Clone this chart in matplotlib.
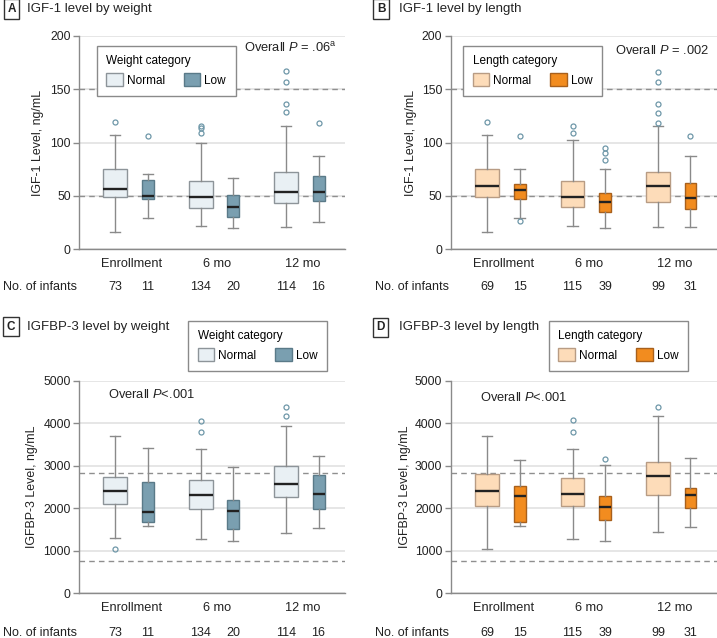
import matplotlib
matplotlib.use("Agg")
import matplotlib.pyplot as plt
from matplotlib.patches import Patch

plt.rcParams['font.family'] = ['Liberation Sans', 'DejaVu Sans']
plt.rcParams['mathtext.fontset'] = 'custom'
plt.rcParams['mathtext.rm'] = 'Liberation Sans'
plt.rcParams['mathtext.it'] = 'Liberation Sans:italic'

# ---------------- data ----------------
timepoints = ["Enrollment", "6 mo", "12 mo"]

# Panel A: IGF-1 by weight
a_norm_q1 = [48.8, 39.0, 43.1]
a_norm_med = [56.9, 48.8, 54.0]
a_norm_q3 = [75.0, 64.0, 72.2]
a_norm_lo = [16.0, 22.1, 21.2]
a_norm_hi = [107.5, 100.0, 115.4]
a_norm_fl = [[119.4], [109.4, 113.8, 115.7], [128.5, 136.6, 157.0, 167.0]]
a_low_q1 = [46.9, 30.0, 45.3]
a_low_med = [49.7, 40.0, 54.0]
a_low_q3 = [64.7, 51.0, 68.8]
a_low_lo = [29.0, 20.3, 26.0]
a_low_hi = [71.0, 66.9, 87.2]
a_low_fl = [[106.3], [], [118.2]]

# Panel B: IGF-1 by length
b_norm_q1 = [49.0, 39.4, 44.0]
b_norm_med = [59.1, 49.0, 59.0]
b_norm_q3 = [75.3, 64.0, 72.8]
b_norm_lo = [16.0, 22.1, 20.9]
b_norm_hi = [107.5, 102.2, 115.4]
b_norm_fl = [[119.4], [109.1, 115.4], [118.8, 128.2, 136.0, 157.0, 166.6]]
b_low_q1 = [47.5, 35.3, 37.8]
b_low_med = [56.0, 44.4, 48.4]
b_low_q3 = [61.6, 52.8, 62.5]
b_low_lo = [29.0, 19.7, 20.9]
b_low_hi = [75.0, 75.0, 87.5]
b_low_fl = [[26.3, 106.0], [84.0, 90.0, 95.0], [106.3]]

# Panel C: IGFBP-3 by weight
c_norm_q1 = [2100, 1975, 2257]
c_norm_med = [2413, 2312, 2570]
c_norm_q3 = [2742, 2672, 2986]
c_norm_lo = [1308, 1277, 1425]
c_norm_hi = [3706, 3400, 3941]
c_norm_fl = [[1042], [3800, 4059], [4169, 4388]]
c_low_q1 = [1670, 1520, 1989]
c_low_med = [1905, 1943, 2342]
c_low_q3 = [2625, 2194, 2774]
c_low_lo = [1575, 1237, 1543]
c_low_hi = [3409, 2977, 3236]
c_low_fl = [[], [], []]

# Panel D: IGFBP-3 by length
d_norm_q1 = [2045, 2045, 2319]
d_norm_med = [2413, 2328, 2751]
d_norm_q3 = [2798, 2711, 3095]
d_norm_lo = [1034, 1284, 1434]
d_norm_hi = [3706, 3393, 4176]
d_norm_fl = [[], [3800, 4067], [4380]]
d_low_q1 = [1670, 1731, 2006]
d_low_med = [2281, 2037, 2312]
d_low_q3 = [2530, 2288, 2469]
d_low_lo = [1575, 1237, 1552]
d_low_hi = [3127, 3009, 3189]
d_low_fl = [[], [3150], []]

n_weight_normal = [73, 134, 114]
n_weight_low = [11, 20, 16]
n_length_normal = [69, 115, 99]
n_length_low = [15, 39, 31]

igf_ticks = [0, 50, 100, 150, 200]
igf_ref = [50, 150]
bp3_ticks = [0, 1000, 2000, 3000, 4000, 5000]
bp3_ref = [760, 2820]

# ---------------- styles ----------------
W = 717
H = 638
fig = plt.figure(figsize=(W / 100, H / 100), dpi=100)

col_wn, col_wn_e = "#e9f0f4", "#8d9499"
col_wl, col_wl_e = "#7a9fb0", "#5a7a88"
col_ln, col_ln_e = "#fddcb9", "#b89c84"
col_ll, col_ll_e = "#f28c1f", "#a8601c"
flier_col = "#6e97a8"
whisk_col = "#8a8a8a"
grid_col = "#e2e2e2"
text_col = "#222222"


def px(x, y):
    return x / W, 1 - y / H


def make_stats(q1, med, q3, lo, hi, fl):
    return [dict(q1=a, med=m, q3=b, whislo=l, whishi=h, fliers=f)
            for a, m, b, l, h, f in zip(q1, med, q3, lo, hi, fl)]


def draw_group(ax, stats, positions, width, fc, ec):
    ax.bxp(stats, positions=positions, widths=width, capwidths=0.12,
           patch_artist=True, showfliers=True,
           boxprops=dict(facecolor=fc, edgecolor=ec, linewidth=1.0),
           medianprops=dict(color=text_col, linewidth=1.7),
           whiskerprops=dict(color=whisk_col, linewidth=1.0),
           capprops=dict(color=whisk_col, linewidth=1.0),
           flierprops=dict(marker='o', markersize=3.6, markerfacecolor='none',
                           markeredgecolor=flier_col, markeredgewidth=0.9),
           manage_ticks=False, zorder=3)


def panel(rect, ylim, ticks, refs, normal, low, cols, tick_fmt):
    ax = fig.add_axes(rect)
    ax.set_xlim(-0.615, 2.5)
    ax.set_ylim(*ylim)
    for t in ticks:
        ax.axhline(t, color=grid_col, lw=1.2, zorder=0)
    for r in refs:
        ax.axhline(r, color="#8f8f8f", lw=1.0, ls=(0, (4, 3)), zorder=1)
    off = 0.19
    pos_n = [i - off for i in range(3)]
    pos_l = [i + off for i in range(3)]
    draw_group(ax, normal, pos_n, 0.28, cols[0], cols[1])
    draw_group(ax, low, pos_l, 0.14, cols[2], cols[3])
    ax.set_xticks(range(3))
    ax.set_xticklabels(timepoints, fontsize=9.2, color=text_col)
    ax.tick_params(axis='x', length=0, pad=6)
    ax.set_yticks(ticks)
    ax.set_yticklabels([tick_fmt(t) for t in ticks], fontsize=8.8, color=text_col)
    ax.tick_params(axis='y', length=4, width=1, color="#8a8a8a", pad=2)
    for s in ['top', 'right']:
        ax.spines[s].set_visible(False)
    for s in ['left', 'bottom']:
        ax.spines[s].set_color("#8a8a8a")
        ax.spines[s].set_linewidth(1.0)
    return ax, pos_n, pos_l


def counts(ax, pos_n, pos_l, nn, nl, y, xlab):
    for p, n in zip(pos_n, nn):
        xd = ax.transData.transform((p, 0))[0]
        fig.text(xd / W, 1 - y / H, str(n), ha='center', va='center', fontsize=9, color=text_col)
    for p, n in zip(pos_l, nl):
        xd = ax.transData.transform((p, 0))[0]
        fig.text(xd / W, 1 - y / H, str(n), ha='center', va='center', fontsize=9, color=text_col)
    fig.text(*px(xlab, y), "No. of infants", ha='left', va='center', fontsize=9, color=text_col)


def title(letter, lx, tx, y, txt):
    fig.text(*px(lx, y), letter, ha='center', va='center', fontsize=8.5, fontweight='bold',
             color=text_col,
             bbox=dict(boxstyle='square,pad=0.3', fc='white', ec='#333333', lw=1.0))
    fig.text(*px(tx, y), txt, ha='left', va='center', fontsize=9.5, color=text_col)


def legend(ax, x, y, name, c1, e1, c2, e2):
    handles = [Patch(facecolor=c1, edgecolor=e1, lw=1.0), Patch(facecolor=c2, edgecolor=e2, lw=1.0)]
    leg = ax.legend(handles, ["Normal", "Low"], title=name, ncol=2, loc='upper left',
                    bbox_to_anchor=px(x, y), bbox_transform=fig.transFigure,
                    fontsize=8.5, title_fontsize=8.5, frameon=True, fancybox=False,
                    edgecolor="#8a8a8a", framealpha=1, borderpad=0.8,
                    handlelength=1.4, handleheight=1.3, handletextpad=0.35,
                    columnspacing=1.6, borderaxespad=0)
    leg.get_frame().set_linewidth(1.0)
    leg._legend_box.align = "left"
    leg.set_zorder(5)
    return leg


igf_fmt = lambda t: f"{t:d}"

# Panel A
rectA = [79 / W, 1 - 249.3 / H, 266 / W, 213.3 / H]
axA, pn, pl = panel(rectA, (0, 200), igf_ticks, igf_ref,
                    make_stats(a_norm_q1, a_norm_med, a_norm_q3, a_norm_lo, a_norm_hi, a_norm_fl),
                    make_stats(a_low_q1, a_low_med, a_low_q3, a_low_lo, a_low_hi, a_low_fl),
                    (col_wn, col_wn_e, col_wl, col_wl_e), igf_fmt)
counts(axA, pn, pl, n_weight_normal, n_weight_low, 286.7, 3)
legend(axA, 96.7, 46, "Weight category", col_wn, col_wn_e, col_wl, col_wl_e)
fig.text(*px(244, 47.5), r"Overall $\mathit{P}$ = .06$^{\mathrm{a}}$", ha='left', va='center', fontsize=9.3, color=text_col)
fig.text(*px(38, 142.7), "IGF-1 Level, ng/mL", rotation=90, ha='center', va='center', fontsize=8.9, color=text_col)
title("A", 11.5, 27, 9, "IGF-1 level by weight")

# Panel B
rectB = [450.7 / W, 1 - 249.3 / H, 266.3 / W, 213.3 / H]
axB, pn, pl = panel(rectB, (0, 200), igf_ticks, igf_ref,
                    make_stats(b_norm_q1, b_norm_med, b_norm_q3, b_norm_lo, b_norm_hi, b_norm_fl),
                    make_stats(b_low_q1, b_low_med, b_low_q3, b_low_lo, b_low_hi, b_low_fl),
                    (col_ln, col_ln_e, col_ll, col_ll_e), igf_fmt)
counts(axB, pn, pl, n_length_normal, n_length_low, 286.7, 375)
legend(axB, 463.3, 46, "Length category", col_ln, col_ln_e, col_ll, col_ll_e)
fig.text(*px(615, 51), r"Overall $\mathit{P}$ = .002", ha='left', va='center', fontsize=9.3, color=text_col)
fig.text(*px(411, 142.7), "IGF-1 Level, ng/mL", rotation=90, ha='center', va='center', fontsize=8.9, color=text_col)
title("B", 381, 399, 9, "IGF-1 level by length")

# Panel C
rectC = [79 / W, 1 - 593.3 / H, 266 / W, 212.6 / H]
axC, pn, pl = panel(rectC, (0, 5000), bp3_ticks, bp3_ref,
                    make_stats(c_norm_q1, c_norm_med, c_norm_q3, c_norm_lo, c_norm_hi, c_norm_fl),
                    make_stats(c_low_q1, c_low_med, c_low_q3, c_low_lo, c_low_hi, c_low_fl),
                    (col_wn, col_wn_e, col_wl, col_wl_e), igf_fmt)
counts(axC, pn, pl, n_weight_normal, n_weight_low, 633.3, 3)
legend(axC, 188.3, 321, "Weight category", col_wn, col_wn_e, col_wl, col_wl_e)
fig.text(*px(107.7, 395), r"Overall $\mathit{P}$<.001", ha='left', va='center', fontsize=9.3, color=text_col)
fig.text(*px(32, 487), "IGFBP-3 Level, ng/mL", rotation=90, ha='center', va='center', fontsize=8.9, color=text_col)
title("C", 11, 27, 326.7, "IGFBP-3 level by weight")

# Panel D
rectD = [450.7 / W, 1 - 593.3 / H, 266.3 / W, 212.6 / H]
axD, pn, pl = panel(rectD, (0, 5000), bp3_ticks, bp3_ref,
                    make_stats(d_norm_q1, d_norm_med, d_norm_q3, d_norm_lo, d_norm_hi, d_norm_fl),
                    make_stats(d_low_q1, d_low_med, d_low_q3, d_low_lo, d_low_hi, d_low_fl),
                    (col_ln, col_ln_e, col_ll, col_ll_e), igf_fmt)
counts(axD, pn, pl, n_length_normal, n_length_low, 633.3, 375)
legend(axD, 549, 321, "Length category", col_ln, col_ln_e, col_ll, col_ll_e)
fig.text(*px(480, 397.7), r"Overall $\mathit{P}$<.001", ha='left', va='center', fontsize=9.3, color=text_col)
fig.text(*px(405, 487), "IGFBP-3 Level, ng/mL", rotation=90, ha='center', va='center', fontsize=8.9, color=text_col)
title("D", 380.7, 399, 327.3, "IGFBP-3 level by length")

fig.savefig("out.png", dpi=100, facecolor='white')
